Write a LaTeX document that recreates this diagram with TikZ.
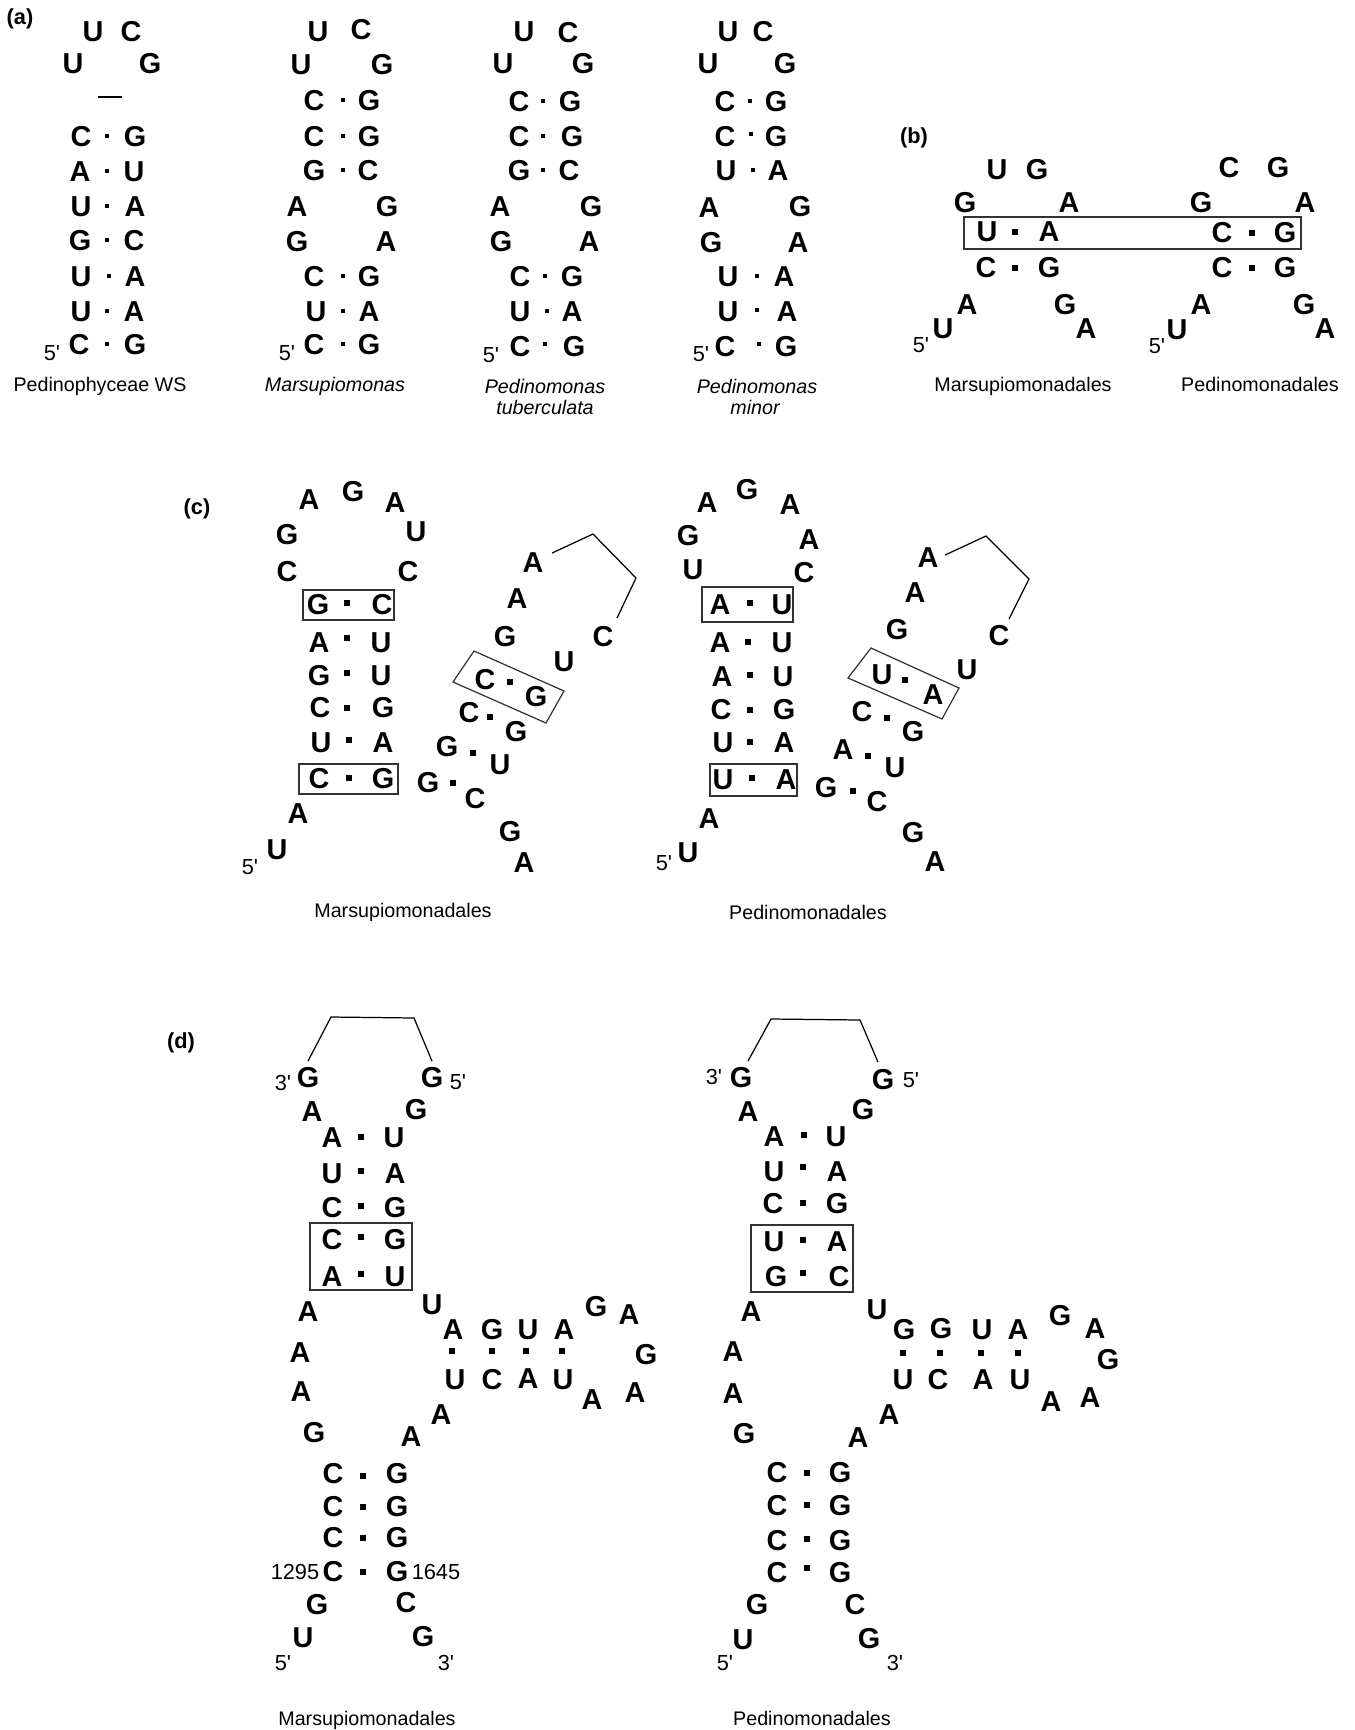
\documentclass[tikz,border=0pt]{standalone}
\usepackage{fontspec}
\setmainfont{Liberation Sans}
\usetikzlibrary{calc}
\newcommand\ntfont{\fontsize{8.2}{9}\selectfont\bfseries}
\newcommand\lblfont{\fontsize{5.6}{6.6}\selectfont}
\newcommand\tipfont{\fontsize{6.2}{7}\selectfont}
% base-pair dots: small for (a), square for (b)-(d)
\newcommand\sdot[2]{\fill (#1-2,#2-2) rectangle (#1+2,#2+2);}
\newcommand\bdot[2]{\fill (#1-2.8,#2-2.8) rectangle (#1+2.8,#2+2.8);}
\begin{document}
\begin{tikzpicture}[x=0.1mm,y=-0.1mm,
  nt/.style={font=\ntfont,inner sep=0pt},
  lbl/.style={font=\lblfont,inner sep=0pt,anchor=base},
  pend/.style={font=\tipfont,inner sep=0pt},
  panel/.style={font=\tipfont\bfseries,inner sep=0pt},
  boxline/.style={draw=black!80,line width=0.35pt},
  thinline/.style={line width=0.35pt}]
\useasboundingbox (0,0) rectangle (1354,1730);

% ---------- (a)
\node[panel] (pa) at (20,19) {(a)};
\foreach \x/\y/\l [count=\i] in {93/32/U,131/32/C,73/64/U,150/64/G,81/137/C,135/137/G,80/172/A,134/172/U,
  81/207/U,135/207/A,80/241/G,134/241/C,81/277/U,135/277/A,81/312/U,134/312/A,79/345/C,135/345/G}
  \node[nt] (pw\i) at (\x,\y) {\l};
\foreach \x/\y in {107/136,107/171,107/206,107/240,109/276,107/311,107/344} {\sdot{\x}{\y}}
\draw[thinline] (98,97) -- (122,97);
\node[pend] (pwend) at (52,353) {5\textquotesingle};
\node[lbl] (pwname) at (100,391) {Pedinophyceae WS};

\foreach \x/\y/\l [count=\i] in {318/32/U,361/30/C,301/65/U,382/65/G,314/101/C,369/101/G,314/137/C,369/137/G,
  314/171/G,368/171/C,297/207/A,387/207/G,297/242/G,386/242/A,314/277/C,369/277/G,316/312/U,369/312/A,314/345/C,369/345/G}
  \node[nt] (ma\i) at (\x,\y) {\l};
\foreach \x/\y in {343/100,343/136,343/170,343/276,343/311,343/344} {\sdot{\x}{\y}}
\node[pend] (maend) at (287,353) {5\textquotesingle};
\node[lbl,font=\lblfont\itshape] (maname) at (335,391) {Marsupiomonas};

\foreach \x/\y/\l [count=\i] in {524/32/U,568/33/C,503/64/U,583/64/G,519/102/C,570/102/G,519/137/C,572/137/G,
  519/171/G,569/171/C,500/207/A,591/207/G,501/242/G,589/242/A,520/277/C,572/277/G,520/312/U,572/312/A,520/347/C,574/347/G}
  \node[nt] (pt\i) at (\x,\y) {\l};
\foreach \x/\y in {543/101,543/136,543/170,545/276,547/311,545/344} {\sdot{\x}{\y}}
\node[pend] (ptend) at (491,355) {5\textquotesingle};
\node[lbl,font=\lblfont\itshape] (ptname) at (545,393) {Pedinomonas};
\node[lbl,font=\lblfont\itshape] (ptname2) at (545,414) {tuberculata};

\foreach \x/\y/\l [count=\i] in {728/32/U,763/32/C,708/64/U,785/64/G,725/102/C,776/102/G,725/137/C,776/137/G,
  726/171/U,778/171/A,709/208/A,800/207/G,711/243/G,798/243/A,728/277/U,784/277/A,728/312/U,787/312/A,725/347/C,786/347/G}
  \node[nt] (pm\i) at (\x,\y) {\l};
\foreach \x/\y in {750/101,751/134,753/170,757/276,757/310,759/344} {\sdot{\x}{\y}}
\node[pend] (pmend) at (701,354) {5\textquotesingle};
\node[lbl,font=\lblfont\itshape] (pmname) at (757,393) {Pedinomonas};
\node[lbl,font=\lblfont\itshape] (pmname2) at (755,414) {minor};

% ---------- (b)
\node[panel] (pb) at (914,138) {(b)};
\foreach \x/\y/\l [count=\i] in {997/170/U,1037/170/G,965/203/G,1069/203/A,987/232/U,1049/232/A,
  986/268/C,1049/268/G,967/305/A,943/329/U,1065/305/G,1086/329/A}
  \node[nt] (bm\i) at (\x,\y) {\l};
\foreach \x/\y/\l [count=\i] in {1229/168/C,1278/168/G,1201/203/G,1305/203/A,1222/233/C,1285/233/G,
  1222/268/C,1285/268/G,1201/305/A,1177/330/U,1304/305/G,1325/329/A}
  \node[nt] (bp\i) at (\x,\y) {\l};
\foreach \x/\y in {1015/232,1015/268,1252/233,1252/268} {\bdot{\x}{\y}}
\draw[boxline] (964,217) rectangle (1301,249);
\node[pend] (bmend) at (921,345) {5\textquotesingle};
\node[pend] (bpend) at (1157,346) {5\textquotesingle};
\node[lbl] (bmname) at (1023,391) {Marsupiomonadales};
\node[lbl] (bpname) at (1260,391) {Pedinomonadales};

% ---------- (c)
\node[panel] (pc) at (197,509) {(c)};
\foreach \x/\y/\l [count=\i] in {309/500/A,353/492/G,395/503/A,416/532/U,408/572/C,287/535/G,287/572/C,
  318/605/G,382/605/C,319/643/A,381/643/U,319/676/G,381/676/U,320/708/C,383/708/G,321/743/U,383/743/A,
  319/779/C,383/779/G,298/814/A,277/850/U}
  \node[nt] (cm\i) at (\x,\y) {\l};
\foreach \x/\y/\l [count=\i] in {533/563/A,517/599/A,505/637/G,603/637/C,564/662/U,485/680/C,536/697/G,
  469/713/C,516/732/G,447/747/G,500/765/U,428/783/G,475/799/C,510/832/G,524/863/A}
  \node[nt] (cmr\i) at (\x,\y) {\l};
\foreach \x/\y in {347/603,347/638,347/673,347/708,349/740,349/778,510/682,490/717,473/753,453/783} {\bdot{\x}{\y}}
\draw[boxline] (303,590) rectangle (394,620);
\draw[boxline] (299,764) rectangle (398,794);
\draw[boxline] (474,651) -- (564,691) -- (546,723) -- (453,682) -- cycle;
\coordinate (cmk1) at (593,534);
\coordinate (cmk2) at (636,578);
\draw[thinline] ($(cmr1.east)+(8,-10)$) -- (cmk1) -- (cmk2) -- ($(cmr4.north)+(14,-8)$);
\node[pend] (cmend) at (250,867) {5\textquotesingle};
\node[lbl] (cmname) at (403,917) {Marsupiomonadales};

\foreach \x/\y/\l [count=\i] in {707/503/A,747/490/G,790/505/A,809/540/A,804/573/C,688/536/G,693/570/U,
  720/605/A,782/605/U,720/643/A,782/643/U,722/677/A,783/677/U,721/710/C,784/710/G,723/743/U,784/743/A,
  723/780/U,786/780/A,709/819/A,688/853/U}
  \node[nt] (cp\i) at (\x,\y) {\l};
\foreach \x/\y/\l [count=\i] in {928/558/A,915/593/A,897/630/G,999/636/C,967/670/U,882/675/U,933/695/A,
  862/712/C,913/732/G,843/750/A,895/768/U,826/788/G,877/802/C,913/833/G,935/862/A}
  \node[nt] (cpr\i) at (\x,\y) {\l};
\foreach \x/\y in {750/603,748/642,750/675,750/710,750/742,752/778,905/680,887/718,868/756,853/791} {\bdot{\x}{\y}}
\draw[boxline] (702,587) rectangle (793,622);
\draw[boxline] (710,764) rectangle (797,796);
\draw[boxline] (871,648) -- (959,688) -- (942,719) -- (848,678) -- cycle;
\coordinate (cpk1) at (986,536);
\coordinate (cpk2) at (1029,579);
\draw[thinline] ($(cpr1.east)+(6,-3)$) -- (cpk1) -- (cpk2) -- ($(cpr4.north)+(10,-6)$);
\node[pend] (cpend) at (664,863) {5\textquotesingle};
\node[lbl] (cpname) at (808,919) {Pedinomonadales};

% ---------- (d)
\node[panel] (pd) at (181,1043) {(d)};
\foreach \x/\y/\l [count=\i] in {308/1078/G,432/1078/G,312/1112/A,416/1110/G,332/1138/A,394/1138/U,
  332/1174/U,395/1174/A,332/1208/C,395/1208/G,332/1240/C,395/1240/G,332/1277/A,395/1277/U,
  308/1312/A,432/1305/U,300/1353/A,301/1392/A,314/1433/G,
  453/1330/A,492/1330/G,528/1330/U,564/1330/A,596/1307/G,629/1315/A,646/1355/G,
  455/1380/U,492/1380/C,528/1379/A,563/1380/U,592/1400/A,635/1393/A,441/1415/A,411/1437/A,
  333/1474/C,397/1474/G,333/1507/C,397/1507/G,333/1538/C,397/1538/G,333/1572/C,397/1572/G,
  317/1605/G,406/1603/C,303/1638/U,423/1637/G}
  \node[nt] (dm\i) at (\x,\y) {\l};
\foreach \x/\y in {361/1137,361/1171,361/1206,361/1237,361/1274,452/1351,492/1351,526/1351,562/1351,
  363/1476,363/1507,363/1538,363/1572} {\bdot{\x}{\y}}
\draw[boxline] (310,1223) rectangle (412,1290);
\coordinate (dmk1) at (331,1017);
\coordinate (dmk2) at (414,1018);
\draw[thinline] ($(dm1.north)+(0,-6)$) -- (dmk1) -- (dmk2) -- ($(dm2.north)+(0,-6)$);
\node[pend] (dm3p) at (283,1083) {3\textquotesingle};
\node[pend] (dm5p) at (458,1082) {5\textquotesingle};
\node[pend] (dmn1) at (295,1572) {1295};
\node[pend] (dmn2) at (436,1572) {1645};
\node[pend] (dmend5) at (283,1663) {5\textquotesingle};
\node[pend] (dmend3) at (446,1663) {3\textquotesingle};
\node[lbl] (dmname) at (367,1725) {Marsupiomonadales};

\foreach \x/\y/\l [count=\i] in {741/1078/G,883/1080/G,748/1112/A,863/1110/G,774/1137/A,836/1137/U,
  774/1172/U,837/1172/A,773/1204/C,837/1204/G,774/1242/U,837/1242/A,776/1277/G,839/1277/C,
  751/1312/A,877/1310/U,733/1352/A,733/1394/A,744/1434/G,
  904/1330/G,941/1329/G,982/1330/U,1018/1330/A,1060/1316/G,1095/1329/A,1108/1360/G,
  903/1380/U,938/1380/C,983/1380/A,1020/1380/U,1051/1402/A,1090/1398/A,889/1415/A,858/1438/A,
  777/1473/C,840/1473/G,777/1506/C,840/1506/G,777/1541/C,840/1541/G,777/1573/C,840/1573/G,
  757/1605/G,855/1605/C,743/1640/U,869/1639/G}
  \node[nt] (dp\i) at (\x,\y) {\l};
\foreach \x/\y in {804/1135,803/1167,803/1203,803/1240,803/1273,903/1353,940/1353,981/1353,1018/1353,
  807/1473,807/1505,807/1539,807/1568} {\bdot{\x}{\y}}
\draw[boxline] (751,1225) rectangle (853,1292);
\coordinate (dpk1) at (771,1019);
\coordinate (dpk2) at (860,1020);
\draw[thinline] ($(dp1.north)+(7,-6)$) -- (dpk1) -- (dpk2) -- ($(dp2.north)+(-5,-7)$);
\node[pend] (dp3p) at (714,1077) {3\textquotesingle};
\node[pend] (dp5p) at (911,1080) {5\textquotesingle};
\node[pend] (dpend5) at (725,1663) {5\textquotesingle};
\node[pend] (dpend3) at (895,1663) {3\textquotesingle};
\node[lbl] (dpname) at (812,1725) {Pedinomonadales};
\end{tikzpicture}
\end{document}
